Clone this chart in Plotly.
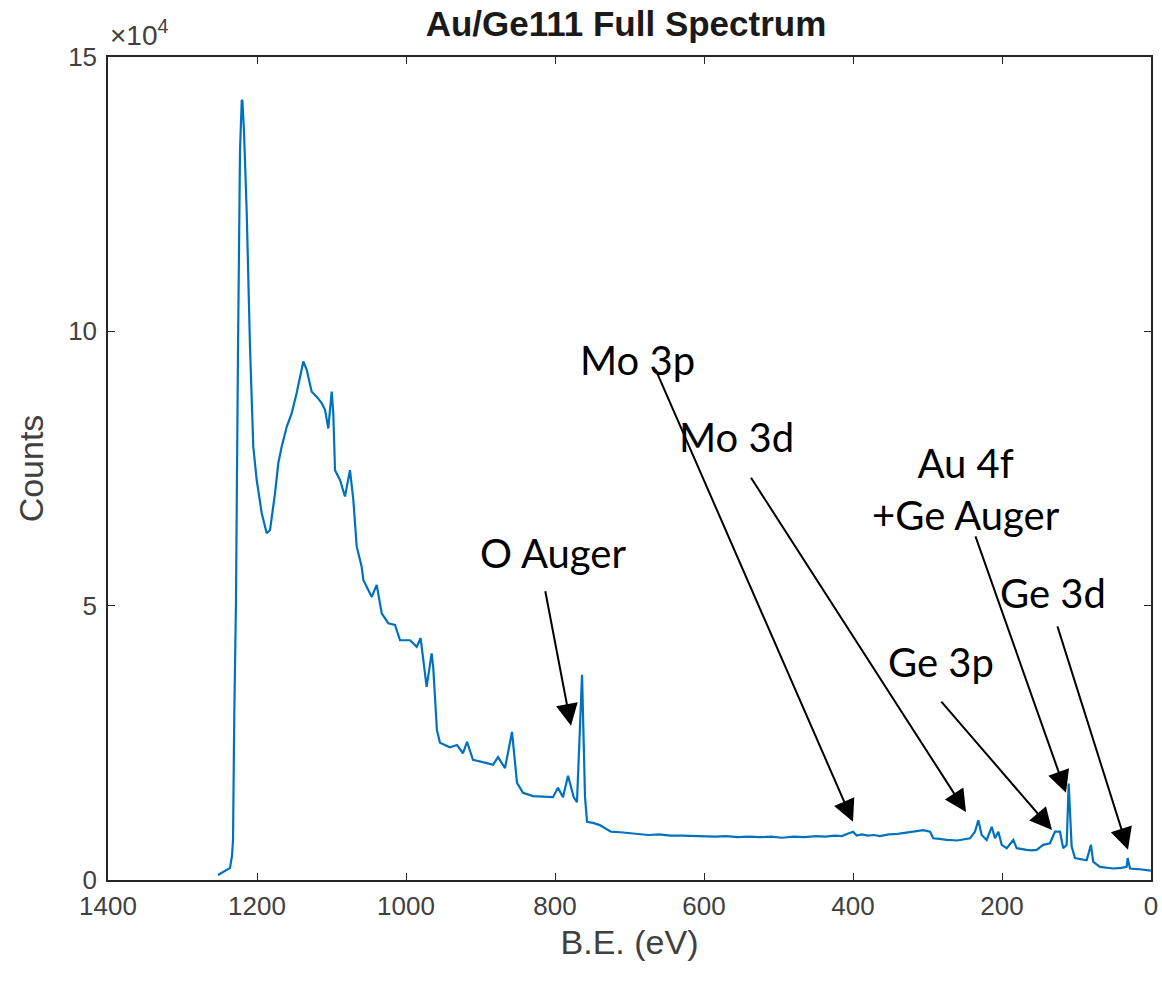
import plotly.graph_objects as go

# Binding energy (eV) and counts (x10^4)
be = [1252.3, 1243.0, 1236.2, 1233.5, 1232.2, 1230.5, 1228.2, 1225.5, 1222.8, 1220.5,
      1219.7, 1217.5, 1213.8, 1209.4, 1205.0, 1200.4, 1193.7, 1187.0, 1182.5, 1175.8,
      1171.4, 1166.8, 1160.1, 1153.4, 1146.7, 1137.8, 1133.3, 1126.6, 1119.9, 1113.2,
      1108.7, 1104.3, 1099.7, 1097.6, 1095.3, 1088.6, 1081.9, 1075.2, 1070.7, 1066.2,
      1059.5, 1057.3, 1046.0, 1039.3, 1032.6, 1023.8, 1014.8, 1008.0, 994.6, 985.6,
      980.4, 972.3, 965.6, 963.5, 961.1, 958.5, 954.4, 941.0, 931.5, 923.5,
      918.1, 910.1, 891.3, 883.2, 876.5, 867.1, 857.7, 851.0, 843.0, 829.5,
      802.7, 796.0, 789.3, 782.5, 775.0, 770.5, 763.7, 759.7, 757.0, 749.0,
      740.0, 733.0, 725.0, 712.0, 700.0, 690.0, 675.0, 660.0, 645.0, 630.0,
      615.0, 600.0, 585.0, 570.0, 555.0, 540.0, 525.0, 510.0, 495.0, 480.0,
      465.0, 450.0, 437.0, 425.0, 415.0, 408.0, 400.0, 395.0, 388.0, 380.0,
      372.0, 364.0, 352.0, 340.0, 330.0, 320.0, 312.0, 305.6, 296.6, 292.2,
      284.0, 274.2, 260.0, 250.0, 243.0, 236.3, 231.8, 227.3, 220.6, 213.8,
      209.4, 204.9, 200.4, 193.7, 184.8, 180.3, 173.0, 166.9, 160.0, 153.5,
      144.6, 135.6, 128.9, 122.2, 117.8, 113.2, 110.5, 106.5, 102.1, 95.0,
      86.4, 80.6, 77.5, 68.5, 60.0, 50.6, 40.0, 32.7, 31.3, 28.2,
      18.0, 5.8, 0.0]

counts = [0.09, 0.16, 0.22, 0.45, 0.73, 3.00, 5.10, 9.66, 13.30, 14.20,
          14.22, 13.67, 12.16, 9.72, 7.90, 7.29, 6.69, 6.32, 6.38, 7.05,
          7.60, 7.90, 8.26, 8.51, 8.88, 9.45, 9.30, 8.90, 8.81, 8.69,
          8.57, 8.23, 8.90, 8.51, 7.47, 7.29, 6.99, 7.47, 6.93, 6.08,
          5.71, 5.47, 5.16, 5.38, 4.86, 4.68, 4.65, 4.37, 4.37, 4.25,
          4.41, 3.52, 4.13, 3.89, 3.28, 2.73, 2.50, 2.42, 2.46, 2.31,
          2.52, 2.19, 2.13, 2.10, 2.24, 2.04, 2.70, 1.77, 1.59, 1.53,
          1.51, 1.68, 1.51, 1.90, 1.51, 1.42, 3.74, 1.51, 1.06, 1.04,
          1.00, 0.95, 0.88, 0.87, 0.85, 0.84, 0.82, 0.83, 0.81, 0.81,
          0.80, 0.80, 0.79, 0.80, 0.78, 0.79, 0.78, 0.79, 0.77, 0.79,
          0.78, 0.80, 0.79, 0.81, 0.80, 0.84, 0.88, 0.81, 0.83, 0.81,
          0.82, 0.80, 0.83, 0.84, 0.86, 0.88, 0.90, 0.91, 0.88, 0.76,
          0.75, 0.73, 0.72, 0.74, 0.76, 0.88, 1.09, 0.82, 0.73, 0.97,
          0.76, 0.88, 0.64, 0.58, 0.73, 0.58, 0.56, 0.55, 0.54, 0.55,
          0.64, 0.67, 0.88, 0.88, 0.58, 0.64, 1.76, 0.61, 0.40, 0.38,
          0.36, 0.64, 0.33, 0.24, 0.22, 0.21, 0.22, 0.24, 0.40, 0.21,
          0.20, 0.18, 0.17]

x_ticks = [0, 200, 400, 600, 800, 1000, 1200, 1400]
y_ticks = [0, 5, 10, 15]

# Peak labels: text, text position (BE, counts), arrow tail, arrow head
labels = [
    ("O Auger", 802.7, 5.96, 813.4, 5.29, 778.5, 2.81),
    ("Mo 3p", 688.6, 9.48, 665.8, 9.33, 400.0, 1.06),
    ("Mo 3d", 557.0, 8.08, 538.2, 7.36, 248.3, 1.24),
    ("Au 4f<br>+Ge Auger", 248.0, 7.12, 236.3, 6.29, 114.1, 1.59),
    ("Ge 3d", 131.5, 5.23, 126.2, 4.65, 30.9, 0.55),
    ("Ge 3p", 281.8, 3.97, 283.2, 3.28, 132.9, 0.91),
]

fig = go.Figure()
fig.add_trace(go.Scatter(x=be, y=counts, mode="lines",
                         line=dict(color="#0072BD", width=2.2), showlegend=False))

ann = []
for txt, tx, ty, ax0, ay0, hx, hy in labels:
    ann.append(dict(x=tx, y=ty, xref="x", yref="y", text=txt, showarrow=False,
                    font=dict(family="Lato", size=40, color="black"),
                    xanchor="center", yanchor="middle", align="center"))
    ann.append(dict(x=hx, y=hy, xref="x", yref="y", ax=ax0, ay=ay0,
                    axref="x", ayref="y", text="", showarrow=True,
                    arrowhead=2, arrowsize=2.2, arrowwidth=2, arrowcolor="black"))

ann.append(dict(x=0, y=1, xref="paper", yref="paper", xanchor="left", yanchor="bottom",
                text="×10<sup>4</sup>", showarrow=False, yshift=4,
                font=dict(family="Liberation Sans", size=28, color="#404040")))

axis_common = dict(showline=True, linecolor="#262626", linewidth=1.5, mirror="ticks",
                   ticks="inside", ticklen=7, tickcolor="#262626", showgrid=False,
                   zeroline=False, automargin=False,
                   tickfont=dict(family="Liberation Sans", size=26, color="#404040"))

fig.update_layout(
    width=1162, height=982,
    margin=dict(l=108, r=11, t=57, b=102, autoexpand=False),
    paper_bgcolor="white", plot_bgcolor="white",
    title=dict(text="<b>Au/Ge111 Full Spectrum</b>", x=626 / 1162, xanchor="center",
               y=1 - 24 / 982, yanchor="middle",
               font=dict(family="Liberation Sans", size=35, color="#1a1a1a")),
    xaxis=dict(range=[1400, 0], tickvals=x_ticks, ticklabelstandoff=2,
               title=dict(text="B.E. (eV)", standoff=10,
                          font=dict(family="Liberation Sans", size=34, color="#404040")),
               **axis_common),
    yaxis=dict(range=[0, 15], tickvals=y_ticks, ticklabelstandoff=4,
               title=dict(text="Counts", standoff=14,
                          font=dict(family="Liberation Sans", size=34, color="#404040")),
               **axis_common),
    annotations=ann,
)

fig.write_html("out.html")
